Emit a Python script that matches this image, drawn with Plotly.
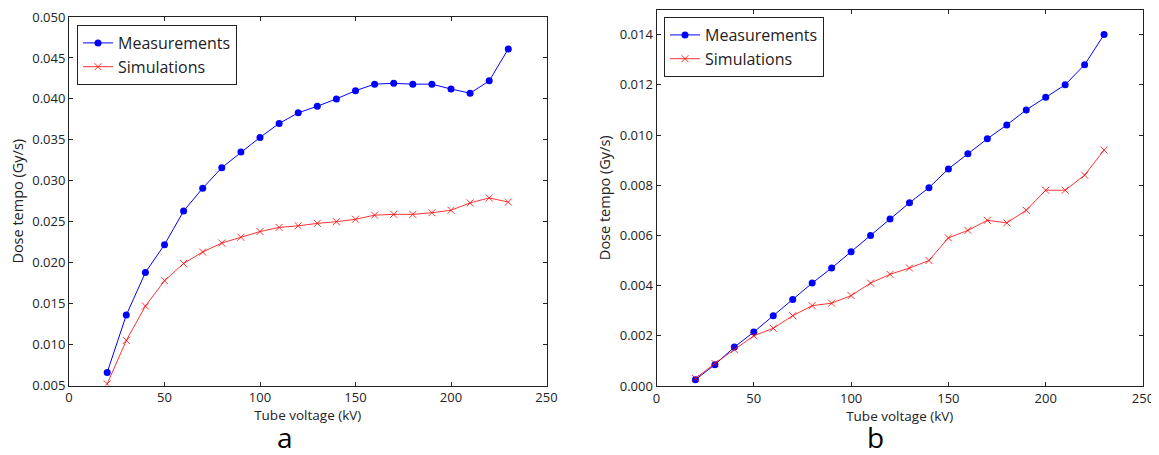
import plotly.graph_objects as go

voltage = [20, 30, 40, 50, 60, 70, 80, 90, 100, 110, 120, 130, 140, 150, 160, 170, 180, 190, 200, 210, 220, 230]

meas_a = [0.0066, 0.0136, 0.0188, 0.0222, 0.0263, 0.0291, 0.0316, 0.0335, 0.0353, 0.0370, 0.0383,
          0.0391, 0.0400, 0.0410, 0.0418, 0.0419, 0.0418, 0.0418, 0.0412, 0.0407, 0.0422, 0.0461]
sim_a = [0.0052, 0.0105, 0.0147, 0.0178, 0.0199, 0.0213, 0.0224, 0.0231, 0.0238, 0.0243, 0.0245,
         0.0248, 0.0250, 0.0253, 0.0258, 0.0259, 0.0259, 0.0261, 0.0264, 0.0273, 0.0279, 0.0274]

meas_b = [0.00025, 0.00085, 0.00155, 0.00215, 0.0028, 0.00345, 0.0041, 0.0047, 0.00535, 0.0060, 0.00665,
          0.0073, 0.0079, 0.00865, 0.00925, 0.00985, 0.0104, 0.0110, 0.0115, 0.0120, 0.0128, 0.0140]
sim_b = [0.0003, 0.0009, 0.00145, 0.0020, 0.0023, 0.0028, 0.0032, 0.0033, 0.0036, 0.0041, 0.00445,
         0.0047, 0.0050, 0.0059, 0.0062, 0.0066, 0.0065, 0.0070, 0.0078, 0.0078, 0.0084, 0.0094]

ticks_a = [0.005, 0.010, 0.015, 0.020, 0.025, 0.030, 0.035, 0.040, 0.045, 0.050]
ticks_b = [0.000, 0.002, 0.004, 0.006, 0.008, 0.010, 0.012, 0.014]

FONT = "Open Sans"
BLUE = "#0000ff"
RED = "rgba(255,0,0,0.8)"

# page body has an 8px margin; figure sized to fit the window
OFF = 8
W, H = 1159 - OFF, 455 - OFF

def px(xp):
    return (xp - OFF) / W

def py(yp):
    return 1 - (yp - OFF) / H

fig = go.Figure()

def add_pair(xa, ya, legend, meas, sim):
    fig.add_trace(go.Scatter(x=voltage, y=meas, name="Measurements", mode="lines+markers",
                             line=dict(color=BLUE, width=1), marker=dict(color=BLUE, size=7, symbol="circle"),
                             xaxis=xa, yaxis=ya, legend=legend))
    fig.add_trace(go.Scatter(x=voltage, y=sim, name="Simulations", mode="lines+markers",
                             line=dict(color=RED, width=1),
                             marker=dict(color=RED, size=7, symbol="x-thin-open", line=dict(color=RED, width=1)),
                             xaxis=xa, yaxis=ya, legend=legend))

add_pair("x", "y", "legend", meas_a, sim_a)
add_pair("x2", "y2", "legend2", meas_b, sim_b)

axis_common = dict(showline=True, linecolor="#222", linewidth=1, mirror="ticks", ticks="inside",
                   ticklen=4, tickcolor="#222", showgrid=False, zeroline=False, automargin=False,
                   ticklabeloverflow="allow",
                   tickfont=dict(family=FONT, size=13, color="#222"))

fig.update_layout(
    width=W, height=H,
    margin=dict(l=0, r=0, t=0, b=0, pad=0, autoexpand=False),
    paper_bgcolor="white", plot_bgcolor="white",
    font=dict(family=FONT, color="#222"),
    xaxis=dict(domain=[px(69), px(546.5)], range=[0, 250], dtick=50, anchor="y",
               title=dict(text="Tube voltage (kV)", font=dict(size=13.5), standoff=2), **axis_common),
    yaxis=dict(domain=[py(385.5), py(17)], range=[0.005, 0.0500001], tickvals=ticks_a,
               ticktext=[f"{v:.3f}" for v in ticks_a], anchor="x",
               title=dict(text="Dose tempo (Gy/s)", font=dict(size=14.5), standoff=5), **axis_common),
    xaxis2=dict(domain=[px(656.5), px(1143)], range=[0, 250], dtick=50, anchor="y2",
                title=dict(text="Tube voltage (kV)", font=dict(size=13.5), standoff=2), **axis_common),
    yaxis2=dict(domain=[py(386), py(9.5)], range=[0, 0.015], tickvals=ticks_b,
                ticktext=[f"{v:.3f}" for v in ticks_b], anchor="x2",
                title=dict(text="Dose tempo (Gy/s)", font=dict(size=14.5), standoff=5), **axis_common),
    legend=dict(x=px(77), y=py(25), xanchor="left", yanchor="top", bordercolor="#222", borderwidth=1,
                bgcolor="white", font=dict(family=FONT, size=16, color="#222"), tracegroupgap=0),
    legend2=dict(x=px(664), y=py(17), xanchor="left", yanchor="top", bordercolor="#222", borderwidth=1,
                 bgcolor="white", font=dict(family=FONT, size=16, color="#222"), tracegroupgap=0),
    annotations=[
        dict(text="a", x=px(284.5), y=0, xref="paper", yref="paper", showarrow=False, yshift=-3,
             xanchor="center", yanchor="bottom", font=dict(family=FONT, size=28, color="black")),
        dict(text="b", x=px(875), y=0, xref="paper", yref="paper", showarrow=False, yshift=-3,
             xanchor="center", yanchor="bottom", font=dict(family=FONT, size=28, color="black")),
    ],
)

fig.write_html("out.html")
